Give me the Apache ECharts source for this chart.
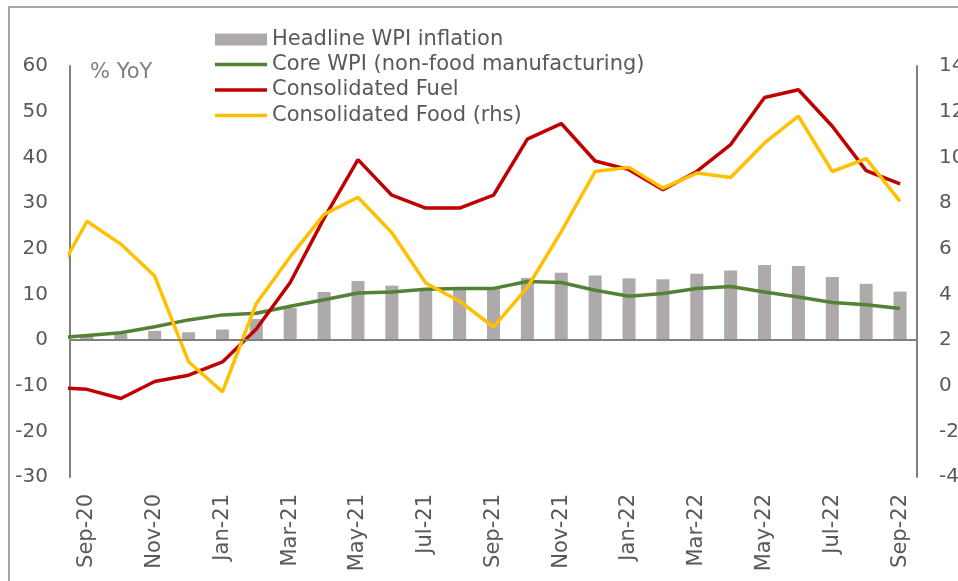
<!DOCTYPE html>
<html>
<head>
<meta charset="utf-8">
<script src="https://cdn.jsdelivr.net/npm/echarts@6/dist/echarts.min.js"></script>
<style>
  html, body { margin: 0; padding: 0; background: #fff; }
  #chart { width: 958px; height: 581px; }
</style>
</head>
<body>
<div id="chart"></div>
<script>
// months shown on the category axis (bars)
var months = ['Sep-20','Oct-20','Nov-20','Dec-20','Jan-21','Feb-21','Mar-21','Apr-21','May-21','Jun-21','Jul-21','Aug-21',
              'Sep-21','Oct-21','Nov-21','Dec-21','Jan-22','Feb-22','Mar-22','Apr-22','May-22','Jun-22','Jul-22','Aug-22','Sep-22'];
// line series start one month earlier (Aug-20), that point is cut off by the axis
var lineMonths = ['Aug-20'].concat(months);

var headlineWpi = [1.1, 1.3, 2.0, 1.7, 2.3, 4.6, 7.0, 10.5, 12.9, 11.9, 11.4, 11.5,
                   11.6, 13.6, 14.7, 14.1, 13.5, 13.3, 14.5, 15.2, 16.4, 16.2, 13.8, 12.3, 10.6];
var coreWpi = [0.4, 1.0, 1.6, 2.9, 4.4, 5.5, 5.85, 7.4, 8.8, 10.3, 10.5, 11.1, 11.3,
               11.3, 12.8, 12.6, 10.9, 9.6, 10.2, 11.3, 11.7, 10.5, 9.4, 8.2, 7.7, 6.9];
var fuel = [-10.4, -10.8, -12.8, -9.1, -7.7, -4.8, 2.4, 12.6, 26.7, 39.5, 31.7, 28.9, 28.9,
            31.7, 44.0, 47.4, 39.2, 37.3, 32.9, 36.9, 42.8, 53.1, 54.8, 46.8, 37.1, 34.2];
var food = [4.5, 7.2, 6.2, 4.8, 1.05, -0.27, 3.6, 5.65, 7.5, 8.25, 6.7, 4.5, 3.7,
            2.57, 4.3, 6.75, 9.38, 9.56, 8.65, 9.31, 9.12, 10.63, 11.8, 9.38, 9.94, 8.07];

var yLeftTicks = { min: -30, max: 60, step: 10 };
var yRightTicks = { min: -4, max: 14, step: 2 };

var font = 'DejaVu Sans';
var grey = '#595959';

function toXY(arr) {
    // index -1 is Aug-20, index 0 is Sep-20 (first bar)
    return arr.map(function (v, i) { return [i - 1, v]; });
}

var chart = echarts.init(document.getElementById('chart'));
chart.setOption({
    animation: false,
    textStyle: { fontFamily: font },
    grid: { left: 70, right: 41, top: 66, bottom: 104, containLabel: false, outerBoundsMode: 'none' },
    legend: [
        {   // bar entry
            orient: 'vertical', left: 215, top: 29, padding: 0,
            itemWidth: 52, itemHeight: 12, icon: 'rect',
            textStyle: { fontSize: 21, color: grey, fontFamily: font },
            data: ['Headline WPI inflation']
        },
        {   // line entries
            orient: 'vertical', left: 215, top: 54, padding: 0,
            itemWidth: 52, itemHeight: 3.5, itemGap: 4.5, icon: 'rect',
            textStyle: { fontSize: 21, color: grey, fontFamily: font },
            data: ['Core WPI (non-food manufacturing)', 'Consolidated Fuel', 'Consolidated Food (rhs)']
        }
    ],
    graphic: [
        { type: 'rect', shape: { x: 9, y: 7, width: 1000, height: 700 },
          style: { fill: 'none', stroke: '#a6a6a6', lineWidth: 2 }, silent: true },
        { type: 'text', left: 90, top: 62,
          style: { text: '% YoY', fontSize: 21, fill: '#808080', fontFamily: font } }
    ],
    xAxis: [
        {
            type: 'category', data: months, boundaryGap: true,
            axisLine: { show: false, onZero: false },
            axisTick: { show: false },
            axisLabel: { interval: 1, rotate: 90, fontSize: 21, color: grey, margin: 17 }
        },
        { type: 'value', min: -0.5, max: 24.5, show: false }
    ],
    yAxis: [
        {
            type: 'value', min: yLeftTicks.min, max: yLeftTicks.max, interval: yLeftTicks.step,
            axisLine: { show: true, onZero: false, lineStyle: { color: '#808080', width: 2 } },
            axisTick: { show: false }, splitLine: { show: false },
            axisLabel: { fontSize: 20, color: grey, margin: 22 }
        },
        {
            type: 'value', min: yRightTicks.min, max: yRightTicks.max, interval: yRightTicks.step,
            axisLine: { show: true, onZero: false, lineStyle: { color: '#808080', width: 2 } },
            axisTick: { show: false }, splitLine: { show: false },
            axisLabel: { fontSize: 20, color: grey, margin: 22 }
        }
    ],
    series: [
        {
            name: 'Headline WPI inflation', type: 'bar', data: headlineWpi,
            xAxisIndex: 0, yAxisIndex: 0, barWidth: 13,
            itemStyle: { color: '#AEAAAA' },
            markLine: {
                silent: true, symbol: 'none', label: { show: false },
                lineStyle: { color: '#808080', width: 2, type: 'solid' },
                data: [{ yAxis: 0 }]
            }
        },
        {
            name: 'Core WPI (non-food manufacturing)', type: 'line', data: toXY(coreWpi),
            xAxisIndex: 1, yAxisIndex: 0, symbol: 'none', clip: true,
            lineStyle: { color: '#548235', width: 3.5 }, itemStyle: { color: '#548235' }
        },
        {
            name: 'Consolidated Fuel', type: 'line', data: toXY(fuel),
            xAxisIndex: 1, yAxisIndex: 0, symbol: 'none', clip: true,
            lineStyle: { color: '#C00000', width: 3.5 }, itemStyle: { color: '#C00000' }
        },
        {
            name: 'Consolidated Food (rhs)', type: 'line', data: toXY(food),
            xAxisIndex: 1, yAxisIndex: 1, symbol: 'none', clip: true,
            lineStyle: { color: '#FFC000', width: 3.5 }, itemStyle: { color: '#FFC000' }
        }
    ]
});
</script>
</body>
</html>
